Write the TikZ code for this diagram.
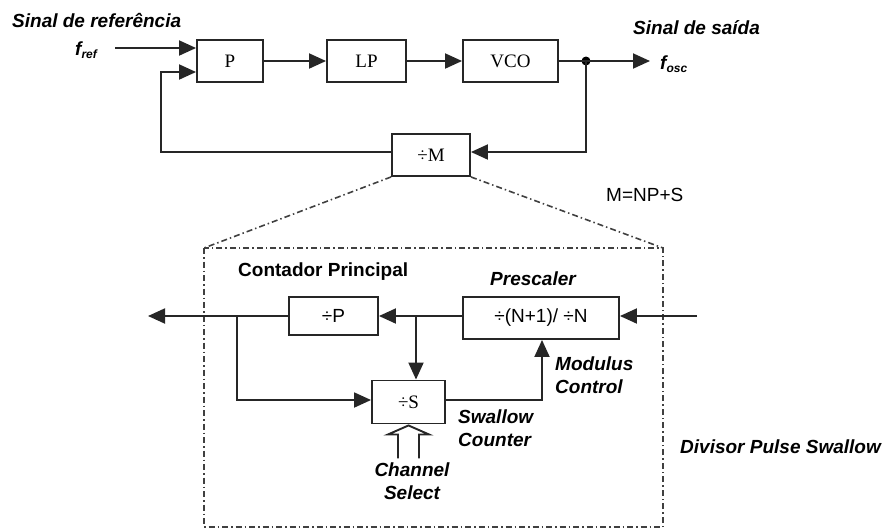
\documentclass[tikz,border=0pt]{standalone}
\usepackage{fontspec}
\setmainfont{Liberation Serif}
\setsansfont{Liberation Sans}
\usetikzlibrary{arrows.meta,calc}

\tikzset{
  wire/.style={line width=1.9pt, draw=black!85},
  arr/.style={wire, -{Triangle[length=17pt,width=15pt]}},
  blk/.style={draw=black!85, line width=1.9pt, fill=white, inner sep=0pt,
    font=\fontsize{19}{22}\selectfont\rmfamily},
  sblk/.style={blk, font=\fontsize{19}{22}\selectfont\sffamily},
  lbl/.style={inner sep=0pt, font=\fontsize{19}{23}\selectfont\sffamily\bfseries\itshape},
  ulbl/.style={inner sep=0pt, font=\fontsize{19}{23}\selectfont\sffamily\bfseries},
  plain/.style={inner sep=0pt, font=\fontsize{19}{22}\selectfont\sffamily},
  zoomline/.style={line width=1.6pt, draw=black!75,
    dash pattern=on 6pt off 3pt on 1.5pt off 3pt},
  jdot/.style={circle, fill=black, inner sep=0pt, minimum size=9pt}
}

\begin{document}
\begin{tikzpicture}[x=1pt,y=-1pt]
\useasboundingbox (0,0) rectangle (893,531);

% ---------- PLL loop ----------
\node[lbl, anchor=west] (tref) at (12,21) {Sinal de referência};
\node[lbl, anchor=west] (fref) at (75,50) {f\textsubscript{\fontsize{12}{12}\selectfont ref}};
\node[lbl, anchor=west] (tout) at (633,28) {Sinal de saída};
\node[lbl, anchor=west] (fosc) at (660,64) {f\textsubscript{\fontsize{12}{12}\selectfont osc}};

\node[blk, minimum width=66pt, minimum height=42pt] (P)   at (230,61)   {P};
\node[blk, minimum width=79pt, minimum height=42pt] (LP)  at (366.5,61) {LP};
\node[blk, minimum width=95pt, minimum height=42pt] (VCO) at (510.5,61) {VCO};
\node[blk, minimum width=78pt, minimum height=42pt] (M)   at (431,155)  {÷M};
\node[plain, anchor=west] (eq) at (606,195) {M=NP+S};

\coordinate (in)  at (115,48);
\coordinate (fbk) at (161,72);
\coordinate (osc) at (650,61);
\coordinate (fbr) at (586,152);
\node[jdot] (dot) at (586,61) {};

\draw[arr] (in) -- (in -| P.west);
\draw[arr] (P.east) -- (LP.west);
\draw[arr] (LP.east) -- (VCO.west);
\draw[wire] (VCO.east) -- (dot.center);
\draw[arr] (dot.center) -- (osc);
\draw[arr] (dot.center) -- (fbr) -- ([yshift=3pt]M.east);
\draw[arr] ([yshift=3pt]M.west) -| (fbk) -- (fbk -| P.west);

% ---------- pulse swallow divider (detail of the divide-by-M block) ----------
\coordinate (zl) at (204,248);
\coordinate (zr) at (663,248);
\draw[zoomline] (M.south west) -- (zl);
\draw[zoomline] (M.south east) -- (zr);
\draw[zoomline] (zl) rectangle (663,527);

\node[ulbl, anchor=west] (tcp) at (238,272) {Contador Principal};
\node[lbl, anchor=west] (tps) at (490,279) {Prescaler};

\node[sblk, minimum width=89pt,  minimum height=38pt] (DP)  at (333.5,316) {÷P};
\node[sblk, minimum width=156pt, minimum height=42pt] (Pre) at (541,318)   {÷(N+1)/ ÷N};
\node[blk,  minimum width=73pt,  minimum height=43pt] (S)   at (408.5,402) {÷S};

\node[lbl, anchor=west, align=left] (tmc) at (555,375) {Modulus\\Control};
\node[lbl, anchor=west, align=left] (tsc) at (458,428.5) {Swallow\\Counter};
\node[lbl, align=center] (tch) at (412,481) {Channel\\Select};
\node[lbl, anchor=west] (tdps) at (680,447) {Divisor Pulse Swallow};

\coordinate (pin)  at (697,316);
\coordinate (pout) at (148,316);
\coordinate (j1)   at (416,316);
\coordinate (j2)   at (237,316);

\draw[arr] (pin) -- (pin -| Pre.east);
\draw[arr] (pin -| Pre.west) -- (DP.east);
\draw[arr] (DP.west) -- (pout);
\draw[arr] (j1) -- (j1 |- S.north);
\draw[arr] (j2) |- ([yshift=2pt]S.west);
\draw[arr] ([yshift=2pt]S.east) -| ($(Pre.south)+(1,0)$);

% hollow channel-select arrow
\draw[line width=1.9pt, draw=black!85, fill=white, line join=miter]
  ($(S.south)+(-10.5,34)$) -- ($(S.south)+(-10.5,10)$) -- ($(S.south)+(-20.5,10)$)
  -- ($(S.south)+(0,1)$) -- ($(S.south)+(20.5,10)$) -- ($(S.south)+(10.5,10)$)
  -- ($(S.south)+(10.5,34)$);
\end{tikzpicture}
\end{document}
